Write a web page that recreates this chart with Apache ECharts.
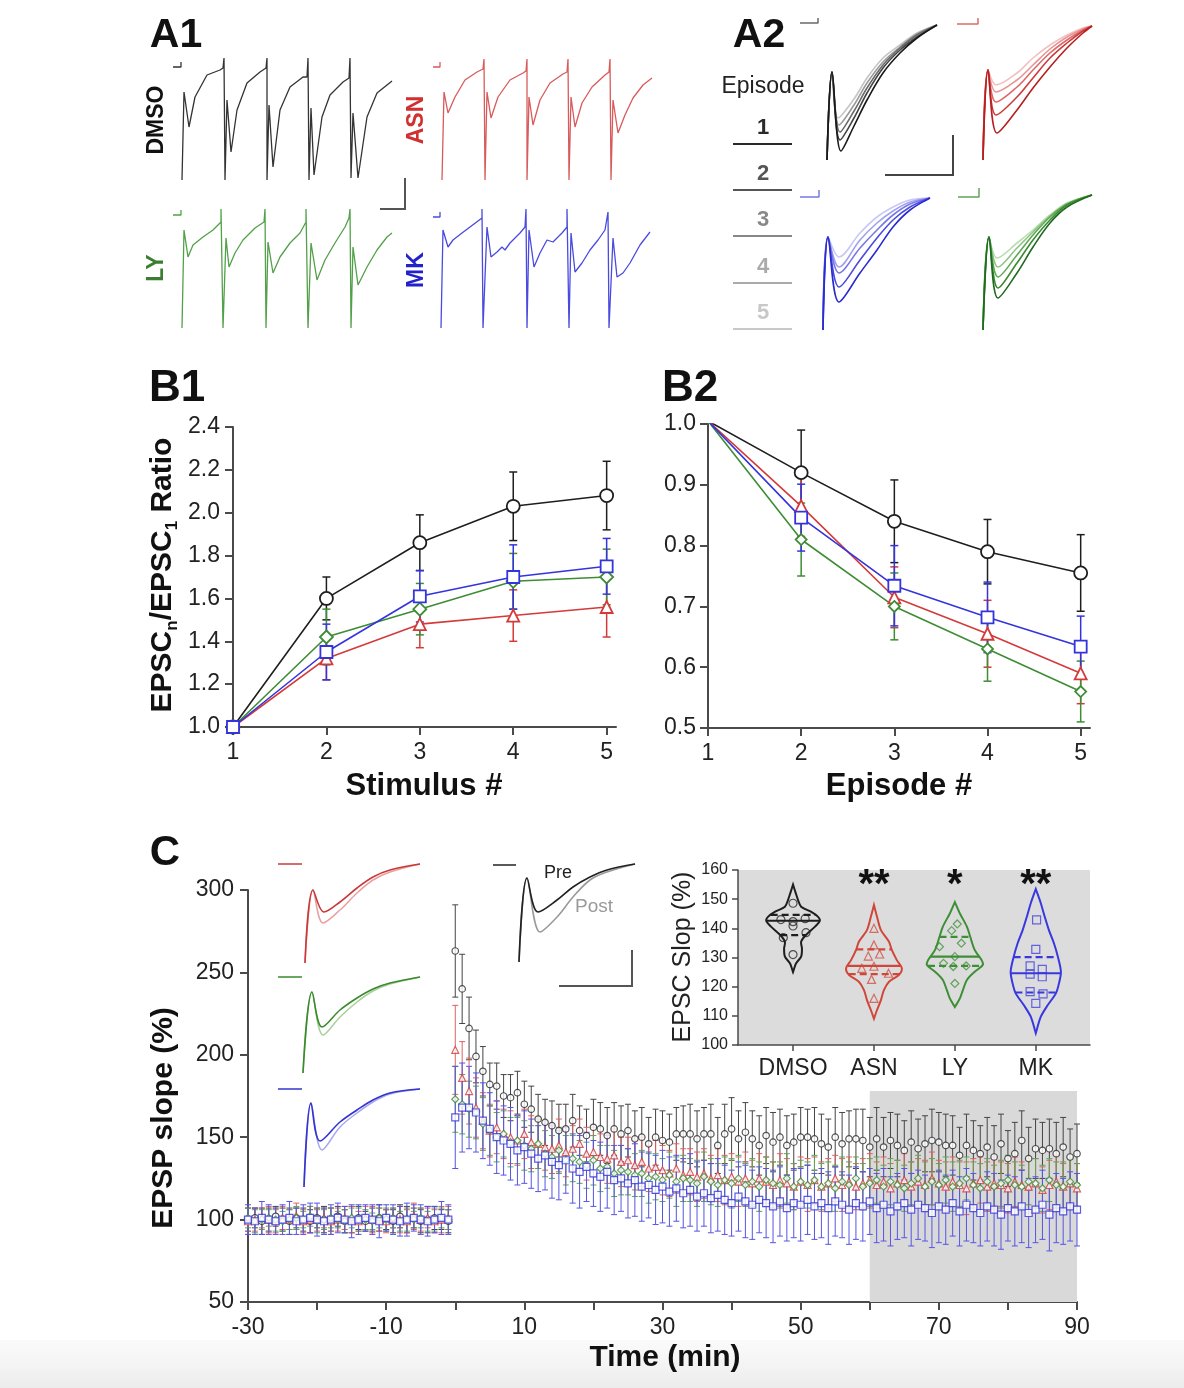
<!DOCTYPE html>
<html><head><meta charset="utf-8">
<script src="https://cdn.jsdelivr.net/npm/echarts@6/dist/echarts.min.js"></script>
<style>html,body{margin:0;padding:0;background:#fff;}#c{width:1184px;height:1388px;}</style>
</head><body><div id="c"></div>
<script>
// ================= DATA =================
// ---- B1: paired-pulse train (EPSCn / EPSC1) ----
const stimulus = [1, 2, 3, 4, 5];
const b1Dmso = [1.00, 1.60, 1.86, 2.03, 2.08];
const b1DmsoErr = [0, 0.10, 0.13, 0.16, 0.16];
const b1Asn = [1.00, 1.32, 1.48, 1.52, 1.56];
const b1AsnErr = [0, 0.10, 0.11, 0.12, 0.14];
const b1Ly = [1.00, 1.42, 1.55, 1.68, 1.70];
const b1LyErr = [0, 0.13, 0.12, 0.13, 0.13];
const b1Mk = [1.00, 1.35, 1.61, 1.70, 1.75];
const b1MkErr = [0, 0.13, 0.12, 0.15, 0.13];

// ---- B2: episode depression ----
const episode = [1, 2, 3, 4, 5];
const b2Dmso = [1.005, 0.92, 0.84, 0.79, 0.755];
const b2DmsoErr = [0, 0.07, 0.068, 0.053, 0.063];
const b2Asn = [1.005, 0.865, 0.715, 0.655, 0.59];
const b2AsnErr = [0, 0.05, 0.05, 0.055, 0.05];
const b2Ly = [1.005, 0.81, 0.70, 0.63, 0.56];
const b2LyErr = [0, 0.06, 0.055, 0.053, 0.05];
const b2Mk = [1.005, 0.846, 0.734, 0.682, 0.634];
const b2MkErr = [0, 0.055, 0.066, 0.058, 0.05];

// ---- C: EPSP slope time course (1 sample / min) ----
const cBaseStart = -30, cBaseEnd = -1, cPostStart = 0, cPostEnd = 90;
const cTickLabels = [-30, -10, 10, 30, 50, 70, 90];
const cShade = [60, 90, 50, 178]; // x from, x to, y from, y to
const dmsoBase = [100,101,99,100,102,100,99,101,100,99,101,100,100,102,99,100,101,99,100,101,100,99,102,100,101,99,100,101,100,99];
const asnBase  = [99,100,101,100,99,101,100,102,99,100,100,101,99,100,101,100,99,101,100,100,99,101,100,99,102,100,101,99,100,101];
const lyBase   = [101,99,100,101,100,99,100,101,100,102,99,100,101,100,99,101,100,100,99,101,100,101,99,100,100,101,99,100,101,100];
const mkBase   = [100,99,101,100,99,100,101,99,100,101,100,99,100,101,100,99,100,101,100,99,101,100,99,100,101,100,99,100,101,100];
const dmsoBaseErr = [7,6,8,7,6,7,8,6,7,7,6,8,7,6,7,8,7,6,7,8,6,7,7,8,6,7,8,7,6,7];
const asnBaseErr  = [8,7,6,8,7,7,6,8,7,8,7,6,8,7,7,8,6,7,8,7,7,6,8,7,8,7,6,7,8,7];
const lyBaseErr   = [6,7,6,5,7,6,6,7,5,6,7,6,6,5,7,6,7,6,5,6,7,6,6,7,5,6,6,7,6,6];
const mkBaseErr   = [9,8,10,9,8,9,10,8,9,9,10,8,9,9,8,10,9,8,9,10,8,9,9,10,8,9,9,8,10,9];
const dmsoPost = [263,240,216,199,190,182,181,175,174,177, 170,167,161,159,157,154,155,160,154,151, 156,155,151,155,152,154,149,150,146,150,
  148,147,152,152,152,149,152,152,145,152, 155,149,153,149,145,151,147,150,145,147, 150,150,149,146,144,150,146,149,149,148,
  144,149,144,148,145,142,147,143,146,148, 147,145,145,139,145,142,140,144,138,146, 137,140,148,137,143,142,143,140,144,138, 140];
const asnPost = [203,186,178,168,160,154,156,152,150,148, 152,147,146,144,143,145,141,143,146,140, 141,138,137,139,135,136,133,135,131,132,
  130,128,131,127,129,126,128,125,127,124, 126,123,125,122,125,123,121,124,122,120, 123,121,124,120,122,125,121,123,120,122,
  124,121,123,119,122,124,120,123,121,125, 122,120,123,121,119,122,124,120,122,121, 119,123,121,120,122,118,121,123,120,122, 119];
const lyPost = [173,170,167,165,158,154,150,152,147,148, 145,143,146,140,138,142,136,137,135,133, 136,131,132,128,130,129,127,128,125,126,
  124,127,123,125,124,122,126,123,121,124, 122,125,121,123,120,124,122,121,125,120, 123,121,124,120,122,119,123,121,125,120,
  122,124,120,123,121,119,122,125,120,123, 121,124,120,122,125,121,119,123,120,122, 124,121,120,123,122,119,124,121,120,123, 121];
const mkPost = [162,168,168,165,160,155,150,148,146,142, 144,140,137,139,135,133,136,131,129,132, 128,126,129,124,125,122,124,120,121,118,
  120,117,119,116,118,114,116,113,115,112, 110,114,111,109,112,110,108,111,107,110, 109,112,108,110,107,111,109,106,110,108,
  111,107,109,105,108,110,106,109,107,104, 108,106,110,105,109,107,104,108,106,103, 107,105,108,104,106,109,103,107,105,108, 106];
const dmsoPostErr = [28,21,19,16,15,13,14,13,14,13, 14,14,15,14,15,16,15,16,15,16, 17,16,17,16,17,16,17,18,16,17,
  18,17,16,17,18,17,16,18,17,18, 19,17,18,17,18,17,18,17,18,17, 18,17,19,18,17,18,19,17,18,19,
  18,19,18,17,19,18,19,18,17,19, 18,19,18,17,19,18,17,18,19,18, 17,19,18,19,18,17,18,19,18,17, 18];
const asnPostErr = [27,22,20,18,17,16,16,15,16,15, 15,16,15,14,15,16,15,14,15,16, 15,14,15,16,15,14,15,15,14,16,
  15,14,15,16,14,15,15,14,16,15, 14,15,16,14,15,15,14,16,15,14, 15,16,14,15,15,14,16,15,14,15,
  16,14,15,15,14,16,15,14,15,16, 14,15,15,14,16,15,14,15,16,14, 15,15,14,16,15,14,15,16,14,15, 15];
const lyPostErr = [20,18,17,16,16,15,15,14,15,14, 15,14,15,14,13,14,15,14,13,14, 15,14,13,14,15,14,13,14,15,14,
  13,14,15,14,13,14,15,14,13,14, 15,14,13,14,15,14,13,14,15,14, 13,14,15,14,13,14,15,14,13,14,
  15,14,13,14,15,14,13,14,15,14, 13,14,15,14,13,14,15,14,13,14, 15,14,13,14,15,14,13,14,15,14, 13];
const mkPostErr = [31,27,25,24,23,22,22,21,22,21, 22,21,20,21,22,21,20,21,22,21, 20,21,22,21,20,21,22,21,20,21,
  22,21,20,21,22,21,20,21,22,21, 20,21,22,21,20,21,22,21,20,21, 22,21,20,21,22,21,20,21,22,21,
  20,21,22,21,20,21,22,21,20,21, 22,21,20,21,22,21,20,21,22,21, 20,21,22,21,20,21,22,21,20,21, 22];

// ---- C inset: violin plot of EPSC slope (%) ----
const violinNames = ['DMSO', 'ASN', 'LY', 'MK'];
const violinStars = ['', '**', '*', '**'];
// [value, relative density]
const dmsoViolin = [[155,0],[152,0.1],[149.7,0.18],[147.4,0.29],[145.7,0.64],[144,0.89],[142.6,0.96],[140.6,0.79],[137.7,0.46],[135.4,0.29],[133.1,0.32],[130.3,0.29],[128,0.11],[125,0]];
const asnViolin  = [[148,0],[144,0.11],[139.4,0.25],[135.4,0.54],[132.6,0.64],[129.1,0.82],[126.3,1],[124,0.89],[121.7,0.54],[118.9,0.36],[115.4,0.25],[112,0.11],[109,0]];
const lyViolin   = [[149,0],[145.1,0.18],[140.6,0.43],[137.1,0.55],[132.6,0.71],[129.1,0.96],[127.4,1],[125.1,0.71],[122.3,0.43],[118.9,0.29],[116,0.18],[113,0]];
const mkViolin   = [[153.5,0],[148.6,0.18],[144,0.32],[139.4,0.47],[134.9,0.65],[130.3,0.79],[125.1,0.9],[121.1,0.83],[117.7,0.72],[113.7,0.43],[109.7,0.18],[104,0]];
// [q1, median, q3]
const dmsoQuart = [137.7, 142.6, 144.6];
const asnQuart  = [124.3, 127.1, 132.8];
const lyQuart   = [127.1, 130.3, 137.1];
const mkQuart   = [118.0, 124.6, 130.1];
// individual cells: [jitter offset, value]
const dmsoCells = [[0,148.6],[-0.15,143],[0.15,143.3],[0,142.3],[0,140.8],[0.16,138.5],[-0.12,136.8],[0,131]];
const asnCells  = [[0,140],[0,134.3],[-0.07,130.5],[0.07,131.2],[-0.15,126.3],[0,127],[0.18,124.6],[-0.03,122.5],[0,116]];
const lyCells   = [[0.03,141.5],[-0.04,139.2],[-0.19,133.7],[0.08,134.9],[0,130.3],[-0.14,128],[-0.02,126.9],[0.14,127.1],[0,121.1]];
const mkCells   = [[0.01,142.9],[0,132.8],[-0.07,127.1],[0.08,125.9],[-0.07,124.3],[0.08,123.4],[-0.07,118.3],[0.09,117.5],[0,114.3]];

// ---- A1: 5-pulse EPSC trains, [time, current] ----
const a1Dmso = [[0,-122],[2,-34],[7,-69],[13,-39],[25,-17],[38,-12],[41,-10],[42,0],[43,-122],[45,-42],[49,-94],[55,-52],[65,-25],[78,-14],[84,-10],[85,0],[85,-122],[87,-47],[91,-109],[98,-52],[108,-29],[121,-19],[125,-19],[126,0],[127,-122],[129,-50],[132,-117],[140,-59],[148,-37],[161,-24],[167,-20],[168,0],[169,-120],[171,-55],[176,-120],[185,-59],[195,-35],[205,-27],[210,-23]];
const a1Asn = [[0,-122],[2,-34],[6,-55],[13,-39],[23,-22],[35,-14],[41,-11],[42,-1],[43,-122],[45,-34],[49,-60],[56,-39],[68,-22],[81,-15],[84,-13],[85,-1],[85,-122],[87,-39],[91,-67],[98,-42],[108,-25],[121,-16],[125,-14],[126,-1],[127,-122],[129,-39],[133,-69],[140,-45],[150,-29],[163,-17],[167,-14],[168,-1],[169,-122],[171,-42],[176,-75],[183,-57],[191,-40],[201,-27],[210,-20]];
const a1Ly = [[0,-119],[2,-21],[6,-48],[11,-36],[21,-28],[31,-21],[39,-13],[39,0],[41,-119],[44,-29],[47,-58],[53,-44],[61,-31],[73,-19],[82,-13],[83,0],[84,-119],[86,-33],[91,-64],[98,-48],[108,-34],[118,-24],[124,-13],[124,0],[126,-119],[129,-34],[135,-71],[143,-51],[153,-34],[163,-18],[167,-9],[168,0],[169,-119],[171,-38],[176,-76],[185,-58],[195,-41],[205,-28],[210,-24]];
const a1Mk = [[-1,-119],[1,-21],[6,-38],[11,-31],[20,-24],[28,-18],[40,-9],[40,0],[41,-119],[45,-18],[49,-48],[55,-43],[60,-38],[63,-41],[68,-34],[78,-24],[83,-18],[84,0],[85,-119],[87,-21],[92,-58],[98,-44],[105,-31],[111,-33],[120,-24],[125,-18],[125,0],[127,-119],[129,-24],[133,-63],[140,-54],[148,-41],[156,-31],[163,-21],[166,-3],[167,-119],[171,-29],[175,-68],[181,-64],[188,-54],[198,-36],[208,-23]];
const a1DmsoPre = [[-9,-9],[-1,-9],[-1,-4]];
const a1AsnPre  = [[-9,-9],[-2,-9],[-2,-4]];
const a1LyPre   = [[-9,-6],[-1,-6],[-1,-1]];
const a1MkPre   = [[-9,-8],[-2,-8],[-2,-3]];

// ---- A2: first EPSC of episodes 1..5, [time, current] ----
const a2Dmso = [
 [[1,-142],[6,-54],[15,-133],[28,-108],[41,-82],[57,-55],[74,-35],[91,-20],[111,-7]],
 [[1,-142],[6,-54],[14,-122],[28,-100],[41,-75],[57,-50],[74,-32],[91,-19],[111,-7]],
 [[1,-142],[6,-54],[14,-114],[28,-93],[41,-70],[57,-47],[74,-30],[91,-17],[111,-7]],
 [[1,-142],[6,-54],[13,-107],[28,-87],[41,-65],[57,-44],[74,-29],[91,-16],[111,-7]],
 [[1,-142],[6,-54],[12,-100],[28,-81],[41,-60],[57,-40],[74,-27],[91,-15],[111,-7]]];
const a2Asn = [
 [[1,-142],[6,-52],[15,-115],[35,-92],[51,-70],[68,-49],[85,-30],[101,-15],[110,-8]],
 [[1,-142],[6,-52],[14,-97],[35,-79],[51,-60],[68,-40],[85,-25],[101,-13],[110,-8]],
 [[1,-142],[6,-52],[14,-84],[35,-69],[51,-52],[68,-35],[85,-22],[101,-12],[110,-8]],
 [[1,-142],[6,-52],[14,-74],[35,-62],[51,-47],[68,-31],[85,-19],[101,-11],[110,-8]],
 [[1,-142],[6,-52],[14,-67],[35,-55],[51,-40],[68,-27],[85,-17],[101,-10],[110,-8]]];
const a2Mk = [
 [[1,-140],[6,-47],[17,-112],[38,-83],[55,-60],[71,-37],[88,-20],[108,-8]],
 [[1,-140],[6,-47],[17,-97],[38,-70],[55,-48],[71,-30],[88,-17],[108,-8]],
 [[1,-140],[6,-47],[17,-83],[38,-58],[55,-40],[71,-25],[88,-14],[108,-8]],
 [[1,-140],[6,-47],[17,-77],[38,-50],[55,-33],[71,-21],[88,-12],[108,-8]],
 [[1,-140],[6,-47],[17,-67],[38,-43],[55,-27],[71,-17],[88,-10],[108,-8]]];
const a2Ly = [
 [[1,-140],[7,-47],[16,-108],[35,-83],[51,-57],[68,-33],[85,-17],[110,-5]],
 [[1,-140],[7,-47],[16,-98],[35,-73],[51,-50],[68,-30],[85,-15],[110,-5]],
 [[1,-140],[7,-47],[16,-87],[35,-65],[51,-45],[68,-27],[85,-14],[110,-5]],
 [[1,-140],[7,-47],[16,-77],[35,-58],[51,-42],[68,-26],[85,-14],[110,-5]],
 [[1,-140],[7,-47],[15,-68],[35,-53],[51,-40],[68,-25],[85,-13],[110,-5]]];
const a2DmsoPre = [[-26,-5],[-8,-5],[-8,0]];
const a2AsnPre  = [[-25,-6],[-4,-6],[-4,0]];
const a2MkPre   = [[-22,-7],[-3,-7],[-3,0]];
const a2LyPre   = [[-24,-7],[-3,-7],[-3,2]];
const episodeLabels = ['1', '2', '3', '4', '5'];

// ---- C example traces (pre vs post), [time, current] ----
const cAsnPre  = [[0,-99],[8,-26],[19,-48],[35,-38],[52,-24],[68,-13],[85,-6],[115,0]];
const cAsnPost = [[0,-99],[8,-26],[18,-59],[35,-46],[52,-29],[68,-16],[85,-8],[115,0]];
const cLyPre   = [[0,-96],[9,-15],[19,-50],[37,-33],[54,-21],[70,-12],[87,-6],[117,0]];
const cLyPost  = [[0,-96],[9,-15],[20,-58],[37,-40],[54,-25],[70,-14],[87,-7],[117,0]];
const cMkPre   = [[0,-98],[7,-14],[16,-52],[36,-33],[53,-21],[69,-11],[86,-4],[116,0]];
const cMkPost  = [[0,-98],[7,-14],[18,-61],[36,-38],[53,-24],[69,-13],[86,-5],[116,0]];
const cDmsoPre = [[0,-97],[8,-13],[19,-47],[38,-35],[54,-22],[71,-12],[88,-5],[116,1]];
const cDmsoPost= [[0,-97],[8,-13],[21,-67],[38,-52],[54,-32],[71,-15],[88,-7],[116,1]];
const cAsnBl = [[-27,0],[-3,0]];
const cLyBl  = [[-25,0],[-1,0]];
const cMkBl  = [[-26,0],[-2,0]];
const cDmsoBl= [[-26,0],[-3,0]];

// ================= STYLE / BUILD =================
const FONT = '"Liberation Sans", Arial, Helvetica, sans-serif';
const COL = { dmso: '#1e1e1e', asn: '#d43a3a', ly: '#3e8c34', mk: '#3434dc' };
const AXC = '#4a4a4a';

const grids = [], xAxes = [], yAxes = [], series = [], graphics = [];
function addGrid(grid, xa, ya) {
  const i = grids.length;
  grids.push(Object.assign({ containLabel: false }, grid));
  xa.gridIndex = i; ya.gridIndex = i; xAxes.push(xa); yAxes.push(ya); return i;
}
function hid(min, max) { return { type: 'value', min, max, show: false }; }
function traceGrid(l, t, w, h, x0, x1, y0, y1) { return addGrid({ left: l, top: t, width: w, height: h }, hid(x0, x1), hid(y0, y1)); }
function addTrace(gi, data, color, lw, smooth) {
  series.push({ type: 'line', xAxisIndex: gi, yAxisIndex: gi, data, symbol: 'none', showSymbol: false,
    smooth: smooth || false, lineStyle: { color, width: lw || 1.3 }, silent: true, z: 3, clip: false });
}
function visAxis(o, lab, tick, lw) {
  const a = { type: 'value',
    axisLine: { show: true, onZero: false, lineStyle: { color: AXC, width: lw || 2 } },
    axisTick: Object.assign({ show: true, length: 8, lineStyle: { color: AXC, width: lw || 2 } }, tick || {}),
    axisLabel: Object.assign({ color: '#222', fontFamily: FONT, fontSize: 23 }, lab || {}),
    splitLine: { show: false } };
  return Object.assign(a, o);
}
function errorBars(gi, xs, ys, errs, color, cap, lw, z) {
  const data = xs.map((x, i) => [x, ys[i] - (errs[i] || 0), ys[i] + (errs[i] || 0)]);
  series.push({ type: 'custom', xAxisIndex: gi, yAxisIndex: gi, data, silent: true, z: z || 2,
    encode: { x: 0, y: [1, 2] },
    renderItem(params, api) {
      const x = api.value(0), lo = api.value(1), hi = api.value(2);
      if (!(hi - lo > 0)) return;
      const a = api.coord([x, lo]), b = api.coord([x, hi]);
      const st = { stroke: color, lineWidth: lw };
      return { type: 'group', children: [
        { type: 'line', shape: { x1: a[0], y1: a[1], x2: b[0], y2: b[1] }, style: st },
        { type: 'line', shape: { x1: a[0] - cap, y1: a[1], x2: a[0] + cap, y2: a[1] }, style: st },
        { type: 'line', shape: { x1: b[0] - cap, y1: b[1], x2: b[0] + cap, y2: b[1] }, style: st }] };
    } });
}
function bSeries(gi, xs, ys, errs, color, symbol, size) {
  errorBars(gi, xs, ys, errs, color, 4, 1.5, 2);
  series.push({ type: 'line', xAxisIndex: gi, yAxisIndex: gi, data: xs.map((x, i) => [x, ys[i]]),
    symbol, symbolSize: size, showSymbol: true, lineStyle: { color, width: 1.6 },
    itemStyle: { color: '#fff', borderColor: color, borderWidth: 1.8 }, z: 4, silent: true });
}

// ---------- A1 ----------
const gA1d = traceGrid(172, 56, 222, 126, -10, 212, -124, 2);
const gA1a = traceGrid(432, 56, 222, 126, -10, 212, -124, 2);
const gA1l = traceGrid(172, 207, 222, 126, -10, 212, -124, 2);
const gA1m = traceGrid(432, 207, 222, 126, -10, 212, -124, 2);
addTrace(gA1d, a1Dmso, '#333333', 1.3); addTrace(gA1d, a1DmsoPre, '#333333', 1.3);
addTrace(gA1a, a1Asn, '#d85a5a', 1.3);  addTrace(gA1a, a1AsnPre, '#d85a5a', 1.3);
addTrace(gA1l, a1Ly, '#52a048', 1.3);   addTrace(gA1l, a1LyPre, '#52a048', 1.3);
addTrace(gA1m, a1Mk, '#4a4ae0', 1.3);   addTrace(gA1m, a1MkPre, '#4a4ae0', 1.3);

// ---------- A2 ----------
const shades = {
  dmso: ['#1a1a1a', '#444444', '#6a6a6a', '#999999', '#c4c4c4'],
  asn: ['#b51f1f', '#cc3c3c', '#dd6a6a', '#e89494', '#f2c0c0'],
  mk: ['#2a2ad0', '#4a4ae0', '#7878e8', '#a0a0f0', '#c8c8f6'],
  ly: ['#1f6a1f', '#3a8a30', '#5fa855', '#8cc482', '#b8dcb0'] };
const gA2d = traceGrid(796, 16, 145, 147, -30, 115, -145, 2);
const gA2a = traceGrid(952, 16, 145, 147, -30, 115, -145, 2);
const gA2m = traceGrid(792, 188, 145, 147, -30, 115, -145, 2);
const gA2l = traceGrid(952, 188, 145, 147, -30, 115, -145, 2);
[[gA2d, a2Dmso, shades.dmso, a2DmsoPre], [gA2a, a2Asn, shades.asn, a2AsnPre], [gA2m, a2Mk, shades.mk, a2MkPre], [gA2l, a2Ly, shades.ly, a2LyPre]]
  .forEach(([g, eps, sh, pre]) => {
    for (let k = eps.length - 1; k >= 0; k--) addTrace(g, eps[k], sh[k], 1.6, 0.35);
    addTrace(g, pre, sh[2], 1.5);
  });

// ---------- B1 ----------
const gB1 = addGrid({ left: 233, top: 427, width: 383, height: 300 },
  visAxis({ min: 1, max: 5.1, interval: 1 }, { customValues: stimulus, margin: 14 }, { customValues: stimulus }),
  visAxis({ min: 1, max: 2.4, interval: 0.2 }, { margin: 13, formatter: v => v.toFixed(1) }));
bSeries(gB1, stimulus, b1Dmso, b1DmsoErr, COL.dmso, 'circle', 13);
bSeries(gB1, stimulus, b1Asn, b1AsnErr, COL.asn, 'triangle', 12);
bSeries(gB1, stimulus, b1Ly, b1LyErr, COL.ly, 'diamond', 13);
bSeries(gB1, stimulus, b1Mk, b1MkErr, COL.mk, 'rect', 12);

// ---------- B2 ----------
const gB2 = addGrid({ left: 708, top: 424, width: 382, height: 304 },
  visAxis({ min: 1, max: 5.1, interval: 1 }, { customValues: episode, margin: 14 }, { customValues: episode }),
  visAxis({ min: 0.5, max: 1.0, interval: 0.1 }, { margin: 12, formatter: v => v.toFixed(1) }));
bSeries(gB2, episode, b2Dmso, b2DmsoErr, COL.dmso, 'circle', 13);
bSeries(gB2, episode, b2Asn, b2AsnErr, COL.asn, 'triangle', 12);
bSeries(gB2, episode, b2Ly, b2LyErr, COL.ly, 'diamond', 11);
bSeries(gB2, episode, b2Mk, b2MkErr, COL.mk, 'rect', 12);

// ---------- C main ----------
const gC = addGrid({ left: 248, top: 890, width: 829, height: 412 },
  visAxis({ min: -30, max: 90, interval: 10 }, { customValues: cTickLabels, margin: 14 }),
  visAxis({ min: 50, max: 300, interval: 50 }, { margin: 14 }));
series.push({ type: 'custom', xAxisIndex: gC, yAxisIndex: gC, data: [cShade], silent: true, z: 1,
  renderItem(p, api) {
    const a = api.coord([api.value(0), api.value(3)]), b = api.coord([api.value(1), api.value(2)]);
    return { type: 'rect', shape: { x: a[0], y: a[1], width: b[0] - a[0], height: b[1] - a[1] }, style: { fill: '#d9d9d9' } };
  } });
const cTimes = [];
for (let t = cBaseStart; t <= cBaseEnd; t++) cTimes.push(t);
for (let t = cPostStart; t <= cPostEnd; t++) cTimes.push(t);
const cGroups = [
  [dmsoBase.concat(dmsoPost), dmsoBaseErr.concat(dmsoPostErr), '#2a2a2a', '#444', 'circle', 6.5],
  [asnBase.concat(asnPost), asnBaseErr.concat(asnPostErr), COL.asn, '#dd6060', 'triangle', 7],
  [lyBase.concat(lyPost), lyBaseErr.concat(lyPostErr), COL.ly, '#5fa355', 'diamond', 7],
  [mkBase.concat(mkPost), mkBaseErr.concat(mkPostErr), COL.mk, '#5555e6', 'rect', 7]];
cGroups.forEach(g => errorBars(gC, cTimes, g[0], g[1], g[3], 3, 1, 2));
cGroups.forEach(g => series.push({ type: 'scatter', xAxisIndex: gC, yAxisIndex: gC, silent: true, z: 4,
  data: cTimes.map((t, i) => [t, g[0][i]]), symbol: g[4], symbolSize: g[5],
  itemStyle: { color: '#fff', borderColor: g[2], borderWidth: 1.2 } }));

// ---------- C example traces ----------
const gCa = traceGrid(275, 859, 150, 110, -30, 120, -105, 5);
const gCl = traceGrid(273, 972, 150, 110, -30, 120, -105, 5);
const gCm = traceGrid(274, 1084, 150, 110, -30, 120, -105, 5);
const gCd = traceGrid(489, 860, 150, 110, -30, 120, -105, 5);
addTrace(gCa, cAsnPost, '#eaa0a0', 1.5, 0.35); addTrace(gCa, cAsnPre, '#c83a3a', 1.6, 0.35); addTrace(gCa, cAsnBl, '#c83a3a', 1.6);
addTrace(gCl, cLyPost, '#a8d09a', 1.5, 0.35);  addTrace(gCl, cLyPre, '#3a8a2e', 1.6, 0.35);  addTrace(gCl, cLyBl, '#3a8a2e', 1.6);
addTrace(gCm, cMkPost, '#a8a8ee', 1.5, 0.35);  addTrace(gCm, cMkPre, '#3434d0', 1.6, 0.35);  addTrace(gCm, cMkBl, '#3434d0', 1.6);
addTrace(gCd, cDmsoPost, '#9a9a9a', 1.6, 0.35); addTrace(gCd, cDmsoPre, '#222', 1.6, 0.35); addTrace(gCd, cDmsoBl, '#222', 1.6);

// ---------- C inset violins ----------
const VH = 0.345;
const gIn = addGrid({ left: 738, top: 870, width: 352, height: 175, show: true, backgroundColor: '#dcdcdc', borderWidth: 0 },
  visAxis({ min: 0.32, max: 4.67 }, { customValues: [1, 2, 3, 4], margin: 12, fontSize: 23, formatter: v => violinNames[Math.round(v) - 1] }, { customValues: [1, 2, 3, 4], length: 6 }, 1.5),
  visAxis({ min: 100, max: 160, interval: 10 }, { margin: 10, fontSize: 16 }, { length: 6 }, 1.5));
function densAt(prof, v) {
  for (let i = 0; i < prof.length - 1; i++) {
    const a = prof[i], b = prof[i + 1];
    if (v <= a[0] && v >= b[0]) return a[1] + (b[1] - a[1]) * (a[0] - v) / (a[0] - b[0]);
  }
  return 0;
}
const vGroups = [
  [dmsoViolin, dmsoQuart, dmsoCells, '#1e1e1e', 'circle'],
  [asnViolin, asnQuart, asnCells, '#d0473a', 'triangle'],
  [lyViolin, lyQuart, lyCells, '#3d8f35', 'diamond'],
  [mkViolin, mkQuart, mkCells, '#3838e0', 'rect']];
vGroups.forEach((g, k) => {
  const cx = k + 1, prof = g[0], q = g[1], col = g[3];
  series.push({ type: 'custom', xAxisIndex: gIn, yAxisIndex: gIn, data: [[cx, q[1]]], silent: true, z: 3,
    renderItem(p, api) {
      const right = prof.map(d => api.coord([cx + d[1] * VH, d[0]]));
      const left = prof.slice().reverse().map(d => api.coord([cx - d[1] * VH, d[0]]));
      const ch = [{ type: 'polygon', shape: { points: right.concat(left), smooth: 0.3 }, style: { fill: 'none', stroke: col, lineWidth: 2 } }];
      q.forEach((qv, j) => {
        const w = densAt(prof, qv) * VH;
        const a = api.coord([cx - w, qv]), b = api.coord([cx + w, qv]);
        ch.push({ type: 'line', shape: { x1: a[0], y1: a[1], x2: b[0], y2: b[1] },
          style: { stroke: col, lineWidth: 2.2, lineDash: j === 1 ? null : [7, 4] } });
      });
      return { type: 'group', children: ch };
    } });
  series.push({ type: 'scatter', xAxisIndex: gIn, yAxisIndex: gIn, silent: true, z: 4,
    data: g[2].map(c => [cx + c[0], c[1]]), symbol: g[4], symbolSize: 8,
    itemStyle: { color: 'rgba(255,255,255,0)', borderColor: col, borderWidth: 1.2, opacity: 0.75 } });
});
series.push({ type: 'custom', xAxisIndex: gIn, yAxisIndex: gIn, silent: true, z: 5,
  data: violinNames.map((n, i) => [i + 1, 154.5]),
  renderItem(p, api) {
    const s = violinStars[p.dataIndex]; if (!s) return;
    const c = api.coord([api.value(0), api.value(1)]);
    return { type: 'text', x: c[0], y: c[1], style: { text: s, font: 'bold 40px ' + FONT, fill: '#111', align: 'center', verticalAlign: 'middle' } };
  } });

// ---------- Graphic text / annotations ----------
function txt(x, y, text, font, fill, rot, extra) {
  graphics.push({ type: 'text', x, y, rotation: rot || 0, z: 100, silent: true,
    style: Object.assign({ text, font, fill: fill || '#111', align: 'center', verticalAlign: 'middle' }, extra || {}) });
}
function pl(points, color, lw) {
  graphics.push({ type: 'polyline', z: 100, silent: true, shape: { points }, style: { stroke: color || '#444', lineWidth: lw || 2, fill: null } });
}
const B = 'bold ';
txt(176, 36, 'A1', B + '41px ' + FONT, '#111');
txt(759, 36, 'A2', B + '41px ' + FONT, '#111');
txt(177, 389, 'B1', B + '44px ' + FONT, '#111');
txt(690, 389, 'B2', B + '44px ' + FONT, '#111');
txt(165, 853, 'C', B + '42px ' + FONT, '#111');
txt(157, 120, 'DMSO', B + '23px ' + FONT, '#111', Math.PI / 2);
txt(417, 120, 'ASN', B + '23px ' + FONT, '#d03030', Math.PI / 2);
txt(157, 268, 'LY', B + '23px ' + FONT, '#3a7f30', Math.PI / 2);
txt(417, 270, 'MK', B + '23px ' + FONT, '#2222cc', Math.PI / 2);
pl([[405, 178], [405, 209], [380, 209]], '#555', 2);
pl([[953, 135], [953, 175], [885, 175]], '#444', 2);
pl([[632, 950], [632, 986], [559, 986]], '#555', 2);
txt(763, 87, 'Episode', '23px ' + FONT, '#222');
const epCols = ['#2a2a2a', '#555555', '#888888', '#aaaaaa', '#c8c8c8'];
const epY = [128, 174, 220, 267, 313];
episodeLabels.forEach((l, i) => {
  txt(763, epY[i], l, B + '22px ' + FONT, epCols[i]);
  pl([[733, epY[i] + 16], [792, epY[i] + 16]], epCols[i], 2);
});
graphics.push({ type: 'text', x: 163, y: 575, rotation: Math.PI / 2, z: 100, silent: true,
  style: { text: '{a|EPSC}{s|n}{a|/EPSC}{s|1}{a| Ratio}', align: 'center', verticalAlign: 'middle',
    rich: { a: { font: B + '30px ' + FONT, fill: '#111', lineHeight: 36, verticalAlign: 'middle' },
            s: { font: B + '17px ' + FONT, fill: '#111', lineHeight: 36, verticalAlign: 'bottom' } } } });
txt(424, 786, 'Stimulus #', B + '31px ' + FONT, '#111');
txt(899, 786, 'Episode #', B + '31px ' + FONT, '#111');
txt(164, 1118, 'EPSP slope (%)', B + '30px ' + FONT, '#111', Math.PI / 2);
txt(665, 1358, 'Time (min)', B + '30px ' + FONT, '#111');
txt(683, 957, 'EPSC Slop (%)', '25px ' + FONT, '#222', Math.PI / 2);
txt(558, 873, 'Pre', '18px ' + FONT, '#222');
txt(594, 907, 'Post', '19px ' + FONT, '#9a9a9a');
graphics.push({ type: 'rect', z: -1, silent: true, shape: { x: 0, y: 1340, width: 1184, height: 48 },
  style: { fill: new echarts.graphic.LinearGradient(0, 0, 0, 1, [{ offset: 0, color: 'rgba(240,240,240,0.3)' }, { offset: 1, color: '#ececec' }]) } });

const chart = echarts.init(document.getElementById('c'), null, { renderer: 'canvas' });
chart.setOption({ animation: false, backgroundColor: '#ffffff', textStyle: { fontFamily: FONT },
  grid: grids, xAxis: xAxes, yAxis: yAxes, series, graphic: graphics });
</script></body></html>
